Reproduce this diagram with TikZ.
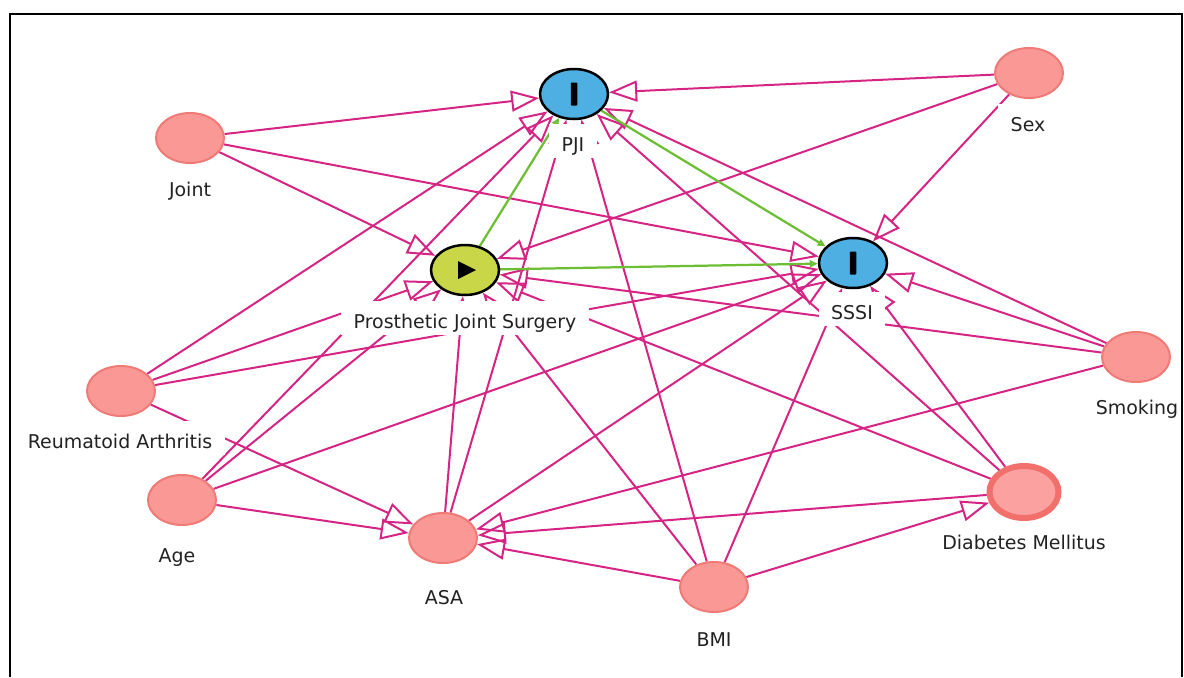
\documentclass[tikz,border=0pt]{standalone}
\usepackage{fontspec}
\setmainfont{DejaVu Sans}
\usetikzlibrary{arrows.meta,shapes.geometric}
\definecolor{edgepink}{RGB}{214,36,132}
\definecolor{nodepink}{RGB}{250,152,150}
\definecolor{nodepinkborder}{RGB}{240,122,118}
\definecolor{dmborder}{RGB}{242,112,108}
\definecolor{dmfill}{RGB}{251,162,160}
\definecolor{outblue}{RGB}{78,176,226}
\definecolor{expgreen}{RGB}{200,214,72}
\definecolor{edgegreen}{RGB}{108,190,52}
\definecolor{labeltext}{RGB}{34,34,34}
\pgfdeclarelayer{edgelayer}
\pgfdeclarelayer{labellayer}
\pgfsetlayers{edgelayer,labellayer,main}
\begin{document}
\begin{tikzpicture}[x=0.02cm,y=-0.02cm,
 var/.style={ellipse, draw=nodepinkborder, fill=nodepink, line width=0.04cm, minimum width=1.36cm, minimum height=1.0cm, inner sep=0pt},
 dmvar/.style={ellipse, draw=dmborder, fill=dmfill, line width=0.12cm, minimum width=1.38cm, minimum height=1.04cm, inner sep=0pt},
 outvar/.style={ellipse, draw=black, fill=outblue, line width=0.05cm, minimum width=1.36cm, minimum height=1.0cm, inner sep=0pt,
   path picture={\fill[black,rounded corners=0.5pt] ([xshift=-0.065cm,yshift=-0.23cm]path picture bounding box.center) rectangle ([xshift=0.065cm,yshift=0.23cm]path picture bounding box.center);}},
 expvar/.style={ellipse, draw=black, fill=expgreen, line width=0.05cm, minimum width=1.36cm, minimum height=1.0cm, inner sep=0pt,
   path picture={\fill[black] ([xshift=-0.14cm,yshift=0.18cm]path picture bounding box.center) -- ([xshift=0.22cm]path picture bounding box.center) -- ([xshift=-0.14cm,yshift=-0.18cm]path picture bounding box.center) -- cycle;}},
 lbl/.style={fill=white, inner xsep=7pt, inner ysep=3.5pt, text height=12.5pt, text depth=0pt, font=\fontsize{10.8}{13}\selectfont, text=labeltext},
 pe/.style={draw=edgepink, line width=0.04cm, -{Triangle[open, length=0.56cm, width=0.42cm]}},
 ge/.style={draw=edgegreen, line width=0.045cm, -{Triangle[open, length=0.16cm, width=0.14cm]}},
 frame/.style={draw=black, line width=0.04cm}
]
\useasboundingbox (0,0) rectangle (1184,677);
\draw[frame] (10,677) -- (10,14) -- (1182,14) -- (1182,677);

% nodes
\node[outvar] (pji) at (574,94) {};
\node[var] (sex) at (1029,73) {};
\node[var] (joint) at (190,138) {};
\node[expvar] (pjs) at (465,270) {};
\node[outvar] (sssi) at (853,263) {};
\node[var] (smk) at (1136,357) {};
\node[var] (ra) at (121,391) {};
\node[var] (age) at (182,500) {};
\node[var] (asa) at (443,538) {};
\node[var] (bmi) at (714,587) {};
\node[dmvar] (dm) at (1024,492) {};

% labels
\begin{pgfonlayer}{labellayer}
\node[lbl] (jointl) at (190,186) {Joint};
\node[lbl] (pjil) at (573,141) {PJI};
\node[lbl] (sexl) at (1028,121) {Sex};
\node[lbl] (pjsl) at (465,318) {Prosthetic Joint Surgery};
\node[lbl] (sssil) at (852,309) {SSSI};
\node[lbl] (smkl) at (1137,404) {Smoking};
\node[lbl] (ral) at (120,438) {Reumatoid Arthritis};
\node[lbl] (agel) at (177,552) {Age};
\node[lbl] (asal) at (444,594) {ASA};
\node[lbl] (bmil) at (714,636) {BMI};
\node[lbl] (dml) at (1024,539) {Diabetes Mellitus};
\end{pgfonlayer}

% edges
\begin{pgfonlayer}{edgelayer}
\draw[pe] (joint) -- (pji);
\draw[pe] (joint) -- (pjs);
\draw[pe] (joint) -- (sssi);
\draw[pe] (sex) -- (pji);
\draw[pe] (sex) -- (pjs);
\draw[pe] (sex) -- (sssi);
\draw[pe] (smk) -- (pji);
\draw[pe] (smk) -- (pjs);
\draw[pe] (smk) -- (sssi);
\draw[pe] (smk) -- (asa);
\draw[pe] (ra) -- (pji);
\draw[pe] (ra) -- (pjs);
\draw[pe] (ra) -- (sssi);
\draw[pe] (ra) -- (asa);
\draw[pe] (age) -- (pji);
\draw[pe] (age) -- (pjs);
\draw[pe] (age) -- (sssi);
\draw[pe] (age) -- (asa);
\draw[pe] (asa) -- (pji);
\draw[pe] (asa) -- (pjs);
\draw[pe] (asa) -- (sssi);
\draw[pe] (bmi) -- (pji);
\draw[pe] (bmi) -- (pjs);
\draw[pe] (bmi) -- (sssi);
\draw[pe] (bmi) -- (asa);
\draw[pe] (bmi) -- (dm);
\draw[pe] (dm) -- (pji);
\draw[pe] (dm) -- (pjs);
\draw[pe] (dm) -- (sssi);
\draw[pe] (dm) -- (asa);
\draw[ge] (pjs) -- (pji);
\draw[ge] (pjs) -- (sssi);
\draw[ge] (pji) -- (sssi);
\end{pgfonlayer}
\end{tikzpicture}
\end{document}
